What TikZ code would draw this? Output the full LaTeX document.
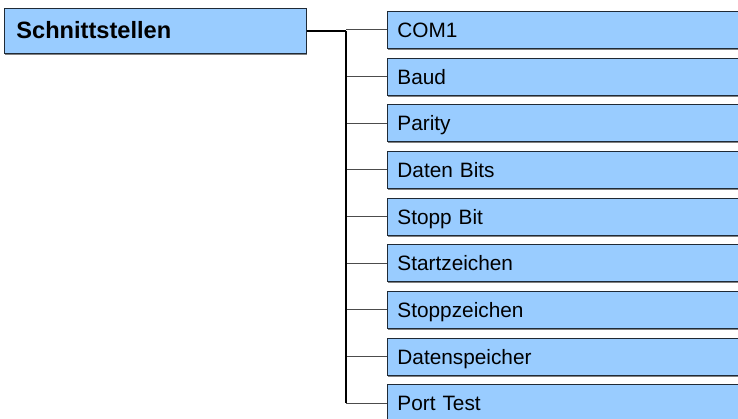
\documentclass[tikz,border=0pt]{standalone}
\usepackage{fontspec}
\setmainfont{Liberation Sans}
\definecolor{boxblue}{HTML}{99CCFF}
\definecolor{boxline}{HTML}{1F2A36}
\tikzset{
  childbox/.style={draw=boxline, line width=0.9pt, fill=boxblue, minimum height=37pt, minimum width=360pt, inner xsep=10pt, inner ysep=0pt, text width=340pt, text height=15pt, text depth=0pt, align=left, anchor=west, font=\fontsize{20.8}{24}\selectfont},
  rootbox/.style={draw=boxline, line width=0.9pt, fill=boxblue, minimum height=45pt, minimum width=302pt, inner xsep=12pt, inner ysep=0pt, text width=278pt, text height=17pt, text depth=0pt, align=left, anchor=west, font=\bfseries\fontsize{23.6}{27}\selectfont},
  branch/.style={draw=black!70, line width=1pt},
  trunk/.style={draw=black, line width=1.3pt},
  shadowfill/.style={fill=black!50}
}
\begin{document}
\begin{tikzpicture}[x=1pt,y=-1pt]
\useasboundingbox (0,0) rectangle (738,419);
\clip (0,0) rectangle (738,419);
\fill[shadowfill] (5,54) rectangle (307,55.5);
\node[rootbox] (root) at (4,30.5) {Schnittstellen};
\coordinate (j) at (346,31);
\foreach \t [count=\i from 0] in {COM1,Baud,Parity,Daten Bits,Stopp Bit,Startzeichen,Stoppzeichen,Datenspeicher,Port Test}{
  \pgfmathsetmacro{\yy}{30+46.65*\i}
  \fill[shadowfill] (388,\yy+18.5) rectangle (745,\yy+20);
  \node[childbox] (c\i) at (387,\yy) {\t};
  \coordinate (b\i) at (346,\yy);
  \draw[branch] (b\i) -- (c\i.west);
}
\draw[black, line width=2pt] (root.east |- j) -- (j);
\draw[trunk] (j) -- (b8);
\end{tikzpicture}
\end{document}
